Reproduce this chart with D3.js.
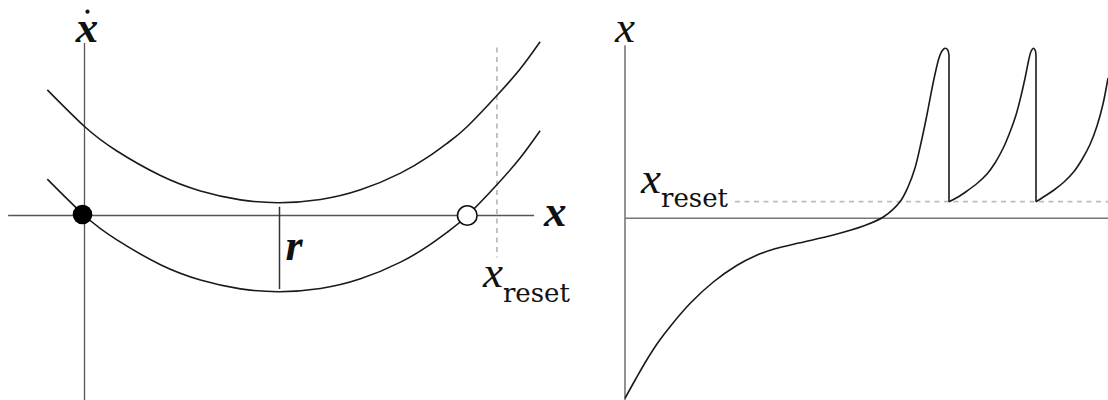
<!DOCTYPE html>
<html>
<head>
<meta charset="utf-8">
<script src="https://cdn.jsdelivr.net/npm/d3@7"></script>
<style>
  html, body { margin: 0; padding: 0; background: #fff; }
  svg { display: block; }
  .sym { font-family: "Liberation Serif", "Times New Roman", serif; font-style: italic; fill: #111; }
  .sub { font-family: "DejaVu Serif", serif; fill: #111; }
</style>
</head>
<body>
<svg id="chart" width="1108" height="400"></svg>
<script>
// ---- Left panel: rate dx/dt as a function of x, for two input levels ----
const phaseX    = [-0.93, 0, 0.8, 1.9, 2.9, 3.9, 4.875, 5.9, 6.9, 7.9, 8.6, 9.1, 9.57, 10.31, 10.9, 11.39];
const lowerRate = [0.91, 0, -0.605, -1.229, -1.611, -1.834, -1.905, -1.825, -1.584, -1.166, -0.755, -0.394, 0, 0.77, 1.45, 2.12];
const upperRate = [3.14, 2.225, 1.62, 1.0, 0.614, 0.391, 0.32, 0.40, 0.641, 1.059, 1.47, 1.831, 2.225, 3.0, 3.675, 4.345];
const stableX = 0;          // filled fixed point
const unstableX = 9.57;     // open fixed point (threshold)
const resetX = 10.31;       // reset value
const rAt = 4.875;          // where the offset r is marked
const rSpan = [0.22, -1.84];
const phaseAxisX = [-1.91, 11.24];
const phaseAxisY = [-4.62, 4.31];
const resetGuideY = [4.2, -1.05];

// ---- Right panel: x over time, repeated spiking with reset ----
const traceT1 = [0, 2.2, 4.34, 6.6, 9.0, 13.0, 17.66, 22.34, 26.0, 30.0, 35.0, 41.66, 47.66, 51.66, 55.0, 56.6, 58.0, 59.2, 60.3, 61.3, 62.1, 62.8, 63.4, 64.0, 64.5, 64.8];
const traceX1 = [-18.0, -16.02, -14.17, -12.42, -10.84, -8.52, -6.37, -4.72, -3.77, -3.05, -2.45, -1.67, -0.77, 0.13, 1.66, 3.13, 5.03, 7.53, 10.13, 12.73, 14.63, 16.03, 16.73, 17.0, 16.88, 16.33];
const traceT2 = [64.8, 66.6, 68.4, 70.4, 72.4, 74.0, 75.6, 77.0, 78.2, 79.2, 80.1, 80.7, 81.2, 81.7, 82.06, 82.2];
const traceX2 = [1.66, 2.13, 2.73, 3.48, 4.43, 5.53, 6.98, 8.63, 10.33, 12.23, 14.23, 15.73, 16.68, 17.0, 16.78, 16.23];
const traceT3 = [82.2, 84.0, 85.8, 87.8, 89.8, 91.4, 93.0, 94.4, 95.6, 96.6];
const traceX3 = [1.66, 2.23, 2.83, 3.63, 4.68, 5.88, 7.38, 9.23, 11.43, 14.03];
const xReset = 1.66;
const resetLineT = [22, 97];
const traceAxisT = [0, 97];
const traceAxisX = [-18.3, 17.3];

const svg = d3.select("#chart");

// scales
const xL = d3.scaleLinear().domain([0, 10]).range([84.5, 484.5]);
const yL = d3.scaleLinear().domain([0, 1]).range([215.5, 175.5]);
const tR = d3.scaleLinear().domain([0, 10]).range([625, 675]);
const yR = d3.scaleLinear().domain([0, 10]).range([218.3, 118.3]);

const rateLine = d3.line().curve(d3.curveNatural);
const traceLine = d3.line().curve(d3.curveCatmullRom.alpha(0.5));

// ---------- left panel ----------
const left = svg.append("g");

// x-axis and rate axis
left.append("line")
  .attr("x1", xL(phaseAxisX[0])).attr("x2", xL(phaseAxisX[1]))
  .attr("y1", yL(0)).attr("y2", yL(0))
  .attr("stroke", "#555").attr("stroke-width", 1.3);
left.append("line")
  .attr("x1", xL(0)).attr("x2", xL(0))
  .attr("y1", yL(phaseAxisY[1])).attr("y2", yL(phaseAxisY[0]))
  .attr("stroke", "#555").attr("stroke-width", 1.3);

// reset guide
left.append("line")
  .attr("x1", xL(resetX)).attr("x2", xL(resetX))
  .attr("y1", yL(resetGuideY[0])).attr("y2", yL(resetGuideY[1]))
  .attr("stroke", "#bdbdbd").attr("stroke-width", 1.8).attr("stroke-dasharray", "5,4.5");

// rate curves
[upperRate, lowerRate].forEach(rate => {
  left.append("path")
    .attr("d", rateLine(phaseX.map((u, i) => [xL(u), yL(rate[i])])))
    .attr("fill", "none").attr("stroke", "#1a1a1a").attr("stroke-width", 1.6);
});

// r marker
left.append("line")
  .attr("x1", xL(rAt)).attr("x2", xL(rAt))
  .attr("y1", yL(rSpan[0])).attr("y2", yL(rSpan[1]))
  .attr("stroke", "#333").attr("stroke-width", 1.5);

// fixed points
left.append("circle")
  .attr("cx", xL(stableX) - 2).attr("cy", yL(0) - 1).attr("r", 9.8)
  .attr("fill", "#000");
left.append("circle")
  .attr("cx", xL(unstableX)).attr("cy", yL(0)).attr("r", 9.8)
  .attr("fill", "#fff").attr("stroke", "#111").attr("stroke-width", 1.6);

// labels
left.append("text").attr("class", "sym")
  .attr("x", xL(0) + 2.5).attr("y", 41.5).attr("text-anchor", "middle")
  .attr("font-size", 45).attr("font-weight", "bold").text("x");
left.append("circle")
  .attr("cx", xL(0) + 3).attr("cy", 11.7).attr("r", 2.1).attr("fill", "#111");

left.append("text").attr("class", "sym")
  .attr("x", xL(phaseAxisX[1]) + 10).attr("y", 226).attr("font-size", 45)
  .attr("font-weight", "bold").text("x");

left.append("text").attr("class", "sym")
  .attr("x", xL(rAt) + 6).attr("y", 260).attr("font-size", 44)
  .attr("font-weight", "bold").text("r");

const lr = left.append("text").attr("x", xL(resetX) - 14).attr("y", 287);
lr.append("tspan").attr("class", "sym").attr("font-size", 45).text("x");
lr.append("tspan").attr("class", "sub").attr("font-size", 26).attr("dy", 15).text("reset");

// ---------- right panel ----------
const right = svg.append("g");

right.append("line")
  .attr("x1", tR(traceAxisT[0])).attr("x2", tR(traceAxisT[1]))
  .attr("y1", yR(0)).attr("y2", yR(0))
  .attr("stroke", "#777").attr("stroke-width", 1.6);
right.append("line")
  .attr("x1", tR(0)).attr("x2", tR(0))
  .attr("y1", yR(traceAxisX[1])).attr("y2", yR(traceAxisX[0]))
  .attr("stroke", "#777").attr("stroke-width", 1.6);

right.append("line")
  .attr("x1", tR(resetLineT[0])).attr("x2", tR(resetLineT[1]))
  .attr("y1", yR(xReset)).attr("y2", yR(xReset))
  .attr("stroke", "#bdbdbd").attr("stroke-width", 1.8).attr("stroke-dasharray", "5,4.5");

const segments = [[traceT1, traceX1], [traceT2, traceX2], [traceT3, traceX3]];
segments.forEach(([ts, xs]) => {
  right.append("path")
    .attr("d", traceLine(ts.map((t, i) => [tR(t), yR(xs[i])])))
    .attr("fill", "none").attr("stroke", "#1a1a1a").attr("stroke-width", 1.6)
    .attr("stroke-linejoin", "round");
});
// resets after each spike
segments.slice(0, -1).forEach(([ts, xs]) => {
  const tEnd = ts[ts.length - 1];
  right.append("line")
    .attr("x1", tR(tEnd)).attr("x2", tR(tEnd))
    .attr("y1", yR(xs[xs.length - 1])).attr("y2", yR(xReset))
    .attr("stroke", "#1a1a1a").attr("stroke-width", 1.6);
});

right.append("text").attr("class", "sym")
  .attr("x", tR(0)).attr("y", 41.5).attr("text-anchor", "middle")
  .attr("font-size", 45).text("x");

const rr = right.append("text").attr("x", tR(3.2)).attr("y", 193);
rr.append("tspan").attr("class", "sym").attr("font-size", 45).text("x");
rr.append("tspan").attr("class", "sub").attr("font-size", 26).attr("dy", 14).text("reset");
</script>
</body>
</html>
